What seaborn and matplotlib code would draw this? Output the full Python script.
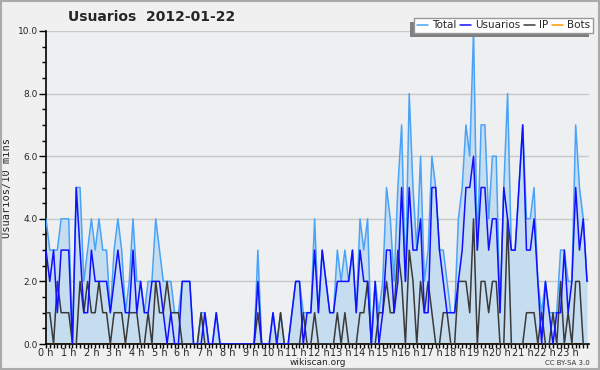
import numpy as np
import pandas as pd
import matplotlib
matplotlib.use("Agg")
import matplotlib.pyplot as plt
from matplotlib.patches import Rectangle
from matplotlib.ticker import MultipleLocator
import seaborn as sns

# --- values per 10-minute slot, 2012-01-22 (144 slots, 12 per row = 2 h) ---
total = [4, 3, 3, 3, 4, 4, 4, 0, 5, 5, 2, 3,
         4, 3, 4, 3, 3, 1, 3, 4, 3, 1, 2, 4,
         2, 2, 1, 2, 2, 4, 3, 2, 2, 2, 1, 1,
         2, 2, 2, 0, 0, 1, 1, 0, 0, 1, 0, 0,
         0, 0, 0, 0, 0, 0, 0, 0, 3, 0, 0, 0,
         1, 0, 1, 0, 0, 1, 2, 2, 1, 1, 1, 4,
         1, 3, 2, 1, 1, 3, 2, 3, 2, 3, 1, 4,
         3, 4, 0, 2, 1, 2, 5, 4, 2, 5, 7, 2,
         8, 5, 3, 6, 2, 3, 6, 5, 3, 3, 2, 1,
         1, 4, 5, 7, 6, 10, 3, 7, 7, 4, 6, 6,
         1, 5, 8, 3, 3, 5, 7, 4, 4, 5, 2, 1,
         2, 1, 1, 1, 3, 3, 2, 2, 7, 5, 4, 2]

usuarios = [3, 2, 3, 1, 3, 3, 3, 0, 5, 3, 1, 1,
            3, 2, 2, 2, 2, 1, 2, 3, 2, 1, 1, 3,
            1, 2, 1, 1, 2, 2, 2, 1, 0, 1, 0, 0,
            2, 2, 2, 0, 0, 0, 1, 0, 0, 1, 0, 0,
            0, 0, 0, 0, 0, 0, 0, 0, 2, 0, 0, 0,
            1, 0, 0, 0, 0, 1, 2, 2, 0, 1, 1, 3,
            1, 3, 2, 1, 1, 2, 2, 2, 2, 3, 1, 3,
            2, 2, 0, 2, 0, 1, 3, 3, 1, 2, 5, 2,
            5, 3, 3, 4, 1, 1, 5, 5, 3, 2, 1, 1,
            1, 2, 3, 5, 5, 6, 3, 5, 5, 3, 4, 4,
            1, 5, 4, 3, 3, 5, 7, 3, 3, 4, 2, 0,
            2, 1, 0, 1, 1, 3, 1, 2, 5, 3, 4, 2]

ip = [1, 1, 0, 2, 1, 1, 1, 0, 0, 2, 1, 2,
      1, 1, 2, 1, 1, 0, 1, 1, 1, 0, 1, 1,
      1, 0, 0, 1, 0, 2, 1, 1, 2, 1, 1, 1,
      0, 0, 0, 0, 0, 1, 0, 0, 0, 0, 0, 0,
      0, 0, 0, 0, 0, 0, 0, 0, 1, 0, 0, 0,
      0, 0, 1, 0, 0, 0, 0, 0, 1, 0, 0, 1,
      0, 0, 0, 0, 0, 1, 0, 1, 0, 0, 0, 1,
      1, 2, 0, 0, 1, 1, 2, 1, 1, 3, 2, 0,
      3, 2, 0, 2, 1, 2, 1, 0, 0, 1, 1, 0,
      0, 2, 2, 2, 1, 4, 0, 2, 2, 1, 2, 2,
      0, 0, 4, 0, 0, 0, 0, 1, 1, 1, 0, 1,
      0, 0, 1, 0, 2, 0, 1, 0, 2, 2, 0, 0]

bots = [0] * 144

hour_labels = [f"{h} h" for h in range(24)]

df = pd.DataFrame({
    "hora": np.arange(144) / 6.0,
    "Total": total,
    "Usuarios": usuarios,
    "IP": ip,
    "Bots": bots,
})

# --- style ---
sns.set_style("white", {"axes.facecolor": "#eeeff0"})
plt.rcParams["font.family"] = ["DejaVu Sans"]

fig = plt.figure(figsize=(6, 3.7), dpi=100, facecolor="#f0f0f0")
ax = fig.add_axes([46 / 600, 26 / 370, 543 / 600, 313 / 370])
ax.set_facecolor("#eeeff0")

# filled area under Total
ax.fill_between(df["hora"], 0, df["Total"], color="#c6dcef", linewidth=0, zorder=1)

colors = {"Total": "#4aa3f7", "Usuarios": "#1010ff", "IP": "#3a3a3a", "Bots": "#ff9a00"}
for serie, z in [("Bots", 2), ("Total", 3), ("IP", 4), ("Usuarios", 5)]:
    sns.lineplot(data=df, x="hora", y=serie, ax=ax, color=colors[serie],
                 linewidth=1.1, label=serie, zorder=z)

ax.set_xlim(0, 23.92)
ax.set_ylim(0, 10)

# grid
ax.yaxis.set_major_locator(MultipleLocator(2))
ax.yaxis.set_minor_locator(MultipleLocator(0.5))
ax.grid(axis="y", which="major", color="#c8c8c8", linewidth=1, zorder=0)
ax.set_axisbelow(True)
ax.set_yticklabels([f"{v:.1f}" for v in ax.get_yticks()])

ax.set_xticks(range(24))
ax.set_xticklabels(hour_labels)
ax.xaxis.set_minor_locator(MultipleLocator(1 / 6))

ax.tick_params(axis="x", which="major", length=3, width=1, labelsize=7, pad=0, color="black")
ax.tick_params(axis="x", which="minor", length=3, width=1, color="black")
ax.tick_params(axis="y", which="major", length=5, width=1, labelsize=6.5, pad=1, color="black")
ax.tick_params(axis="y", which="minor", length=3, width=1, color="black")
ax.tick_params(bottom=True, left=True, which="both")

for side in ["top", "right"]:
    ax.spines[side].set_visible(False)
for side in ["left", "bottom"]:
    ax.spines[side].set_color("black")
    ax.spines[side].set_linewidth(1.2)

ax.set_xlabel("wikiscan.org", fontsize=6.5, labelpad=0)
ax.set_ylabel("Usuarios/10 mins", fontsize=7.5, family="DejaVu Sans Mono", labelpad=4)

# legend, order as in the original, with a shadow offset to the lower left
ax.get_legend().remove()
handles, labels = ax.get_legend_handles_labels()
order = [labels.index(n) for n in ["Total", "Usuarios", "IP", "Bots"]]
leg = fig.legend([handles[i] for i in order], [labels[i] for i in order],
                 loc="upper right", bbox_to_anchor=(0.988, 0.952), ncol=4,
                 fontsize=7.5, handlelength=1.1, handletextpad=0.35, columnspacing=0.35,
                 borderpad=0.25, borderaxespad=0, fancybox=False, shadow=False,
                 framealpha=1, edgecolor="#999999", facecolor="white")
leg.set_zorder(10)

fig.canvas.draw()
bb = leg.get_window_extent().transformed(fig.transFigure.inverted())
fig.patches.append(Rectangle((bb.x0 - 4 / 600, bb.y0 - 4 / 370), bb.width, bb.height,
                             transform=fig.transFigure, facecolor="#808080",
                             edgecolor="none", zorder=9))

fig.text(0.252, 0.955, "Usuarios  2012-01-22", fontsize=10, fontweight="bold",
         ha="center", va="center")
fig.text(0.983, 0.02, "CC BY-SA 3.0", fontsize=5, ha="right", va="center", color="#333333")

fig.patches.append(Rectangle((0.001, 0.002), 0.997, 0.996, transform=fig.transFigure,
                             fill=False, edgecolor="#aaaaaa", linewidth=1.5))

fig.savefig("out.png", dpi=100, facecolor=fig.get_facecolor())
